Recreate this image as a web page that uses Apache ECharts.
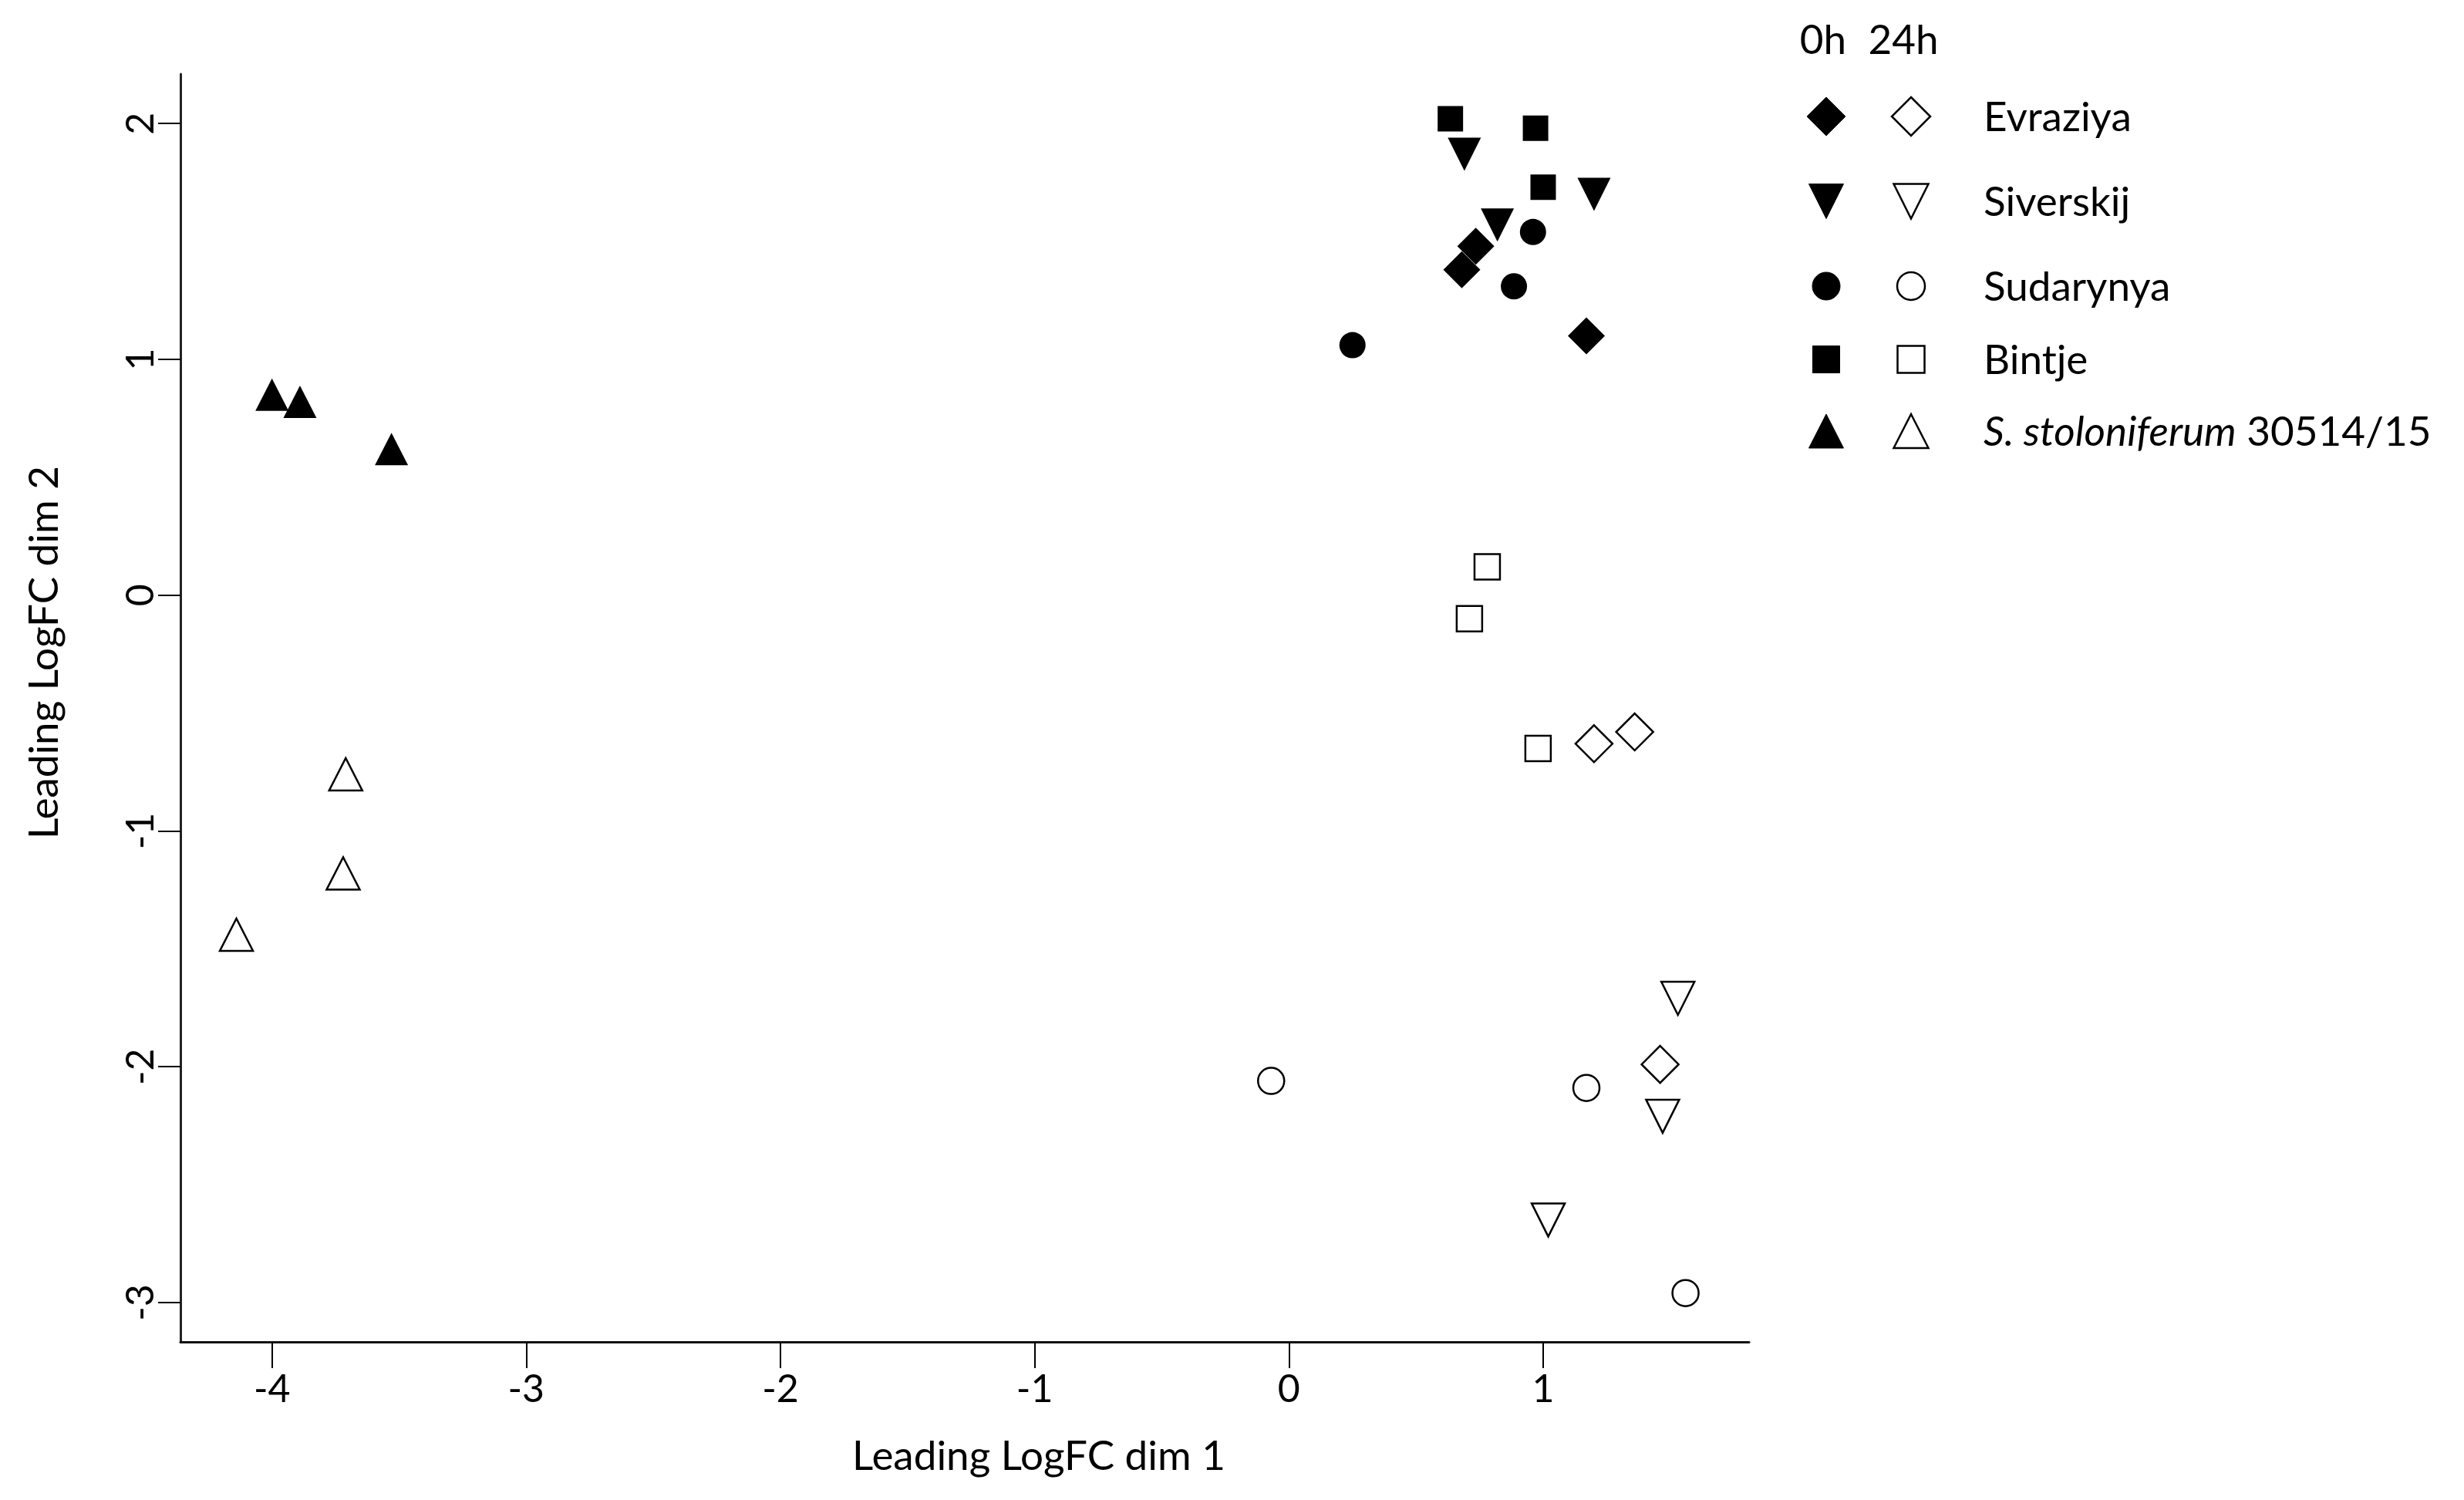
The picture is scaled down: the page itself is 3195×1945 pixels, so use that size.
<!DOCTYPE html>
<html>
<head>
<meta charset="utf-8">
<title>MDS plot</title>
<script src="https://cdn.jsdelivr.net/npm/echarts@6/dist/echarts.min.js"></script>
<style>
  html, body { margin: 0; padding: 0; background: #fff; }
  #chart { width: 3195px; height: 1945px; }
</style>
</head>
<body>
<div id="chart"></div>
<script>
// tick labels
const xTicks = [-4, -3, -2, -1, 0, 1];
const yTicks = [-3, -2, -1, 0, 1, 2];

// points [dim1, dim2], 0h = filled, 24h = open
const evraziya0h = [[0.68, 1.38], [0.735, 1.48], [1.17, 1.10]];
const evraziya24h = [[1.20, -0.63], [1.36, -0.58], [1.46, -1.99]];
const siverskij0h = [[0.69, 1.87], [0.82, 1.57], [1.20, 1.70]];
const siverskij24h = [[1.53, -1.71], [1.47, -2.21], [1.02, -2.65]];
const sudarynya0h = [[0.25, 1.06], [0.96, 1.54], [0.885, 1.31]];
const sudarynya24h = [[-0.07, -2.06], [1.17, -2.09], [1.56, -2.96]];
const bintje0h = [[0.635, 2.02], [0.97, 1.98], [1.00, 1.73]];
const bintje24h = [[0.78, 0.12], [0.71, -0.10], [0.98, -0.65]];
const stolo0h = [[-4.00, 0.85], [-3.89, 0.82], [-3.53, 0.62]];
const stolo24h = [[-3.71, -0.76], [-3.72, -1.18], [-4.14, -1.44]];

const cultivars = ['Evraziya', 'Siverskij', 'Sudarynya', 'Bintje', 'S. stoloniferum 30514/15'];
const data0h = [evraziya0h, siverskij0h, sudarynya0h, bintje0h, stolo0h];
const data24h = [evraziya24h, siverskij24h, sudarynya24h, bintje24h, stolo24h];

const FONT = 'Lato';
const FS = 53;
const downTri = 'path://M0,0L10,0L5,10Z';
const symbols = ['diamond', downTri, 'circle', 'rect', 'triangle'];
const sizes = [[48, 48], [43, 43], [34, 34], [33, 33], [43, 42]];

const filledStyle = { color: '#000', opacity: 1 };
const openStyle = { color: '#fff', borderColor: '#000', borderWidth: 2.5, opacity: 1 };

let series = [];
cultivars.forEach(function (name, i) {
    series.push({
        name: name + ' 0h', type: 'scatter', data: data0h[i],
        symbol: symbols[i], symbolSize: sizes[i], itemStyle: filledStyle,
        emphasis: { disabled: true }
    });
    series.push({
        name: name + ' 24h', type: 'scatter', data: data24h[i],
        symbol: symbols[i], symbolSize: sizes[i], itemStyle: openStyle,
        emphasis: { disabled: true }
    });
});

// legend drawn by hand (two symbol columns: 0h / 24h)
const legRows = [151, 261, 371, 466, 559];
const legX0 = 2368, legX24 = 2478, legTextX = 2572;

function legSymbol(i, cx, cy, filled) {
    const st = filled ? { fill: '#000', stroke: '#000', lineWidth: 1 }
                      : { fill: '#fff', stroke: '#000', lineWidth: 2.5 };
    const w = sizes[i][0] + 2, h = sizes[i][1] + 2;
    if (i === 0) {
        return { type: 'polygon', shape: { points: [[cx, cy - h / 2], [cx + w / 2, cy], [cx, cy + h / 2], [cx - w / 2, cy]] }, style: st };
    } else if (i === 1) {
        return { type: 'polygon', shape: { points: [[cx - w / 2, cy - h / 2], [cx + w / 2, cy - h / 2], [cx, cy + h / 2]] }, style: st };
    } else if (i === 2) {
        return { type: 'circle', shape: { cx: cx, cy: cy, r: w / 2 }, style: st };
    } else if (i === 3) {
        return { type: 'rect', shape: { x: cx - w / 2, y: cy - h / 2, width: w, height: h }, style: st };
    }
    return { type: 'polygon', shape: { points: [[cx, cy - h / 2], [cx + w / 2, cy + h / 2], [cx - w / 2, cy + h / 2]] }, style: st };
}

let graphics = [
    { type: 'text', x: 2364, y: 53, style: { text: '0h', fontSize: FS, fontFamily: FONT, fill: '#000', textAlign: 'center', textVerticalAlign: 'middle' } },
    { type: 'text', x: 2468, y: 53, style: { text: '24h', fontSize: FS, fontFamily: FONT, fill: '#000', textAlign: 'center', textVerticalAlign: 'middle' } }
];
cultivars.forEach(function (name, i) {
    const y = legRows[i];
    graphics.push(legSymbol(i, legX0, y, true));
    graphics.push(legSymbol(i, legX24, y, false));
    let txt = name;
    if (name.indexOf('S. stoloniferum') === 0) {
        txt = '{i|S. stoloniferum}' + name.slice('S. stoloniferum'.length);
    }
    graphics.push({
        type: 'text', x: legTextX, y: y + 2,
        style: {
            text: txt, fontSize: FS, fontFamily: FONT, fill: '#000',
            textAlign: 'left', textVerticalAlign: 'middle',
            rich: { i: { fontStyle: 'italic', fontSize: FS, fontFamily: FONT, fill: '#000' } }
        }
    });
});

const chart = echarts.init(document.getElementById('chart'), null, { renderer: 'canvas' });
chart.setOption({
    backgroundColor: '#fff',
    animation: false,
    grid: { left: 234, right: 927, top: 96, bottom: 205, containLabel: false },
    xAxis: {
        type: 'value', min: -4.36, max: 1.81,
        name: 'Leading LogFC dim 1', nameLocation: 'middle', nameGap: 122,
        nameTextStyle: { fontSize: FS, fontFamily: FONT, color: '#000', padding: [0, 0, 0, 192] },
        splitLine: { show: false },
        axisLine: { onZero: false, lineStyle: { color: '#111', width: 3 } },
        axisTick: { customValues: xTicks, length: 34, lineStyle: { color: '#000', width: 2 } },
        axisLabel: { customValues: xTicks, margin: 37, fontSize: 50, fontFamily: FONT, color: '#000' }
    },
    yAxis: {
        type: 'value', min: -3.167, max: 2.21,
        name: 'Leading LogFC dim 2', nameLocation: 'middle', nameGap: 150,
        nameTextStyle: { fontSize: FS, fontFamily: FONT, color: '#000', padding: [0, 0, 0, 144] },
        splitLine: { show: false },
        axisLine: { onZero: false, lineStyle: { color: '#222', width: 3 } },
        axisTick: { customValues: yTicks, length: 29, lineStyle: { color: '#000', width: 2 } },
        axisLabel: { customValues: yTicks, rotate: 90, margin: 26, fontSize: 50, fontFamily: FONT, color: '#000' }
    },
    series: series,
    graphic: graphics
});
</script>
</body>
</html>
